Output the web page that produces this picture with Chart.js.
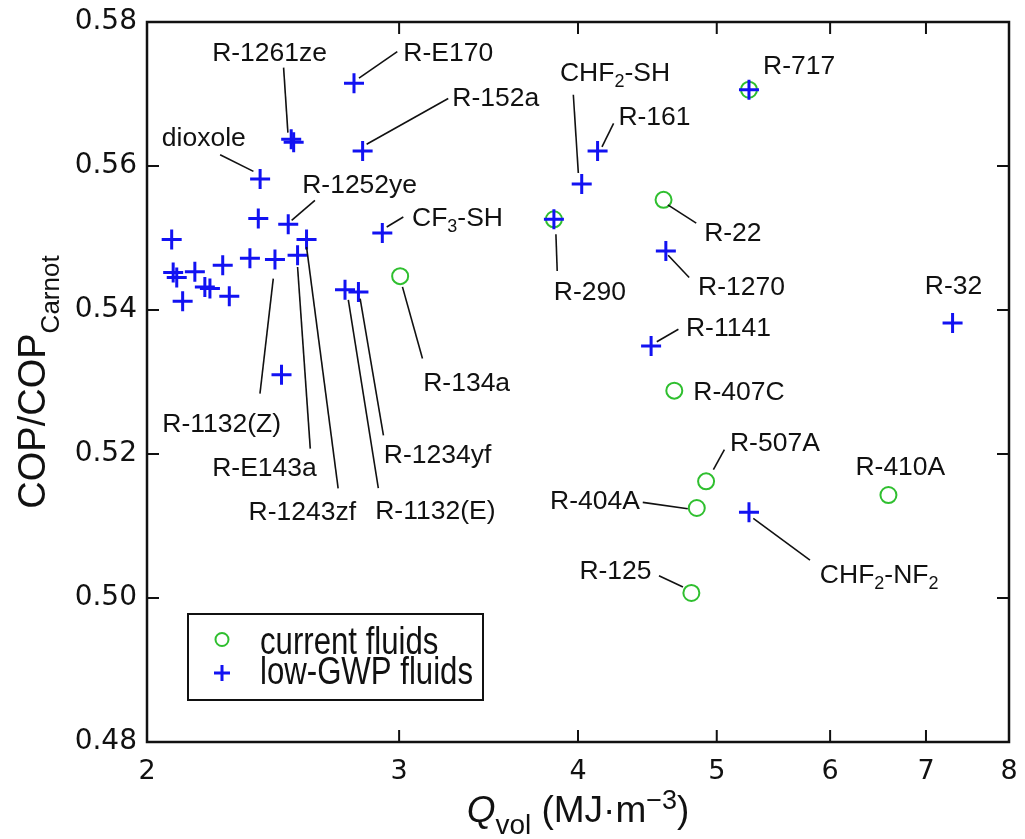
<!DOCTYPE html>
<html><head><meta charset="utf-8">
<script src="https://cdn.jsdelivr.net/npm/chart.js@4.4.0/dist/chart.umd.min.js"></script>
<style>html,body{margin:0;padding:0;background:#fff;} #wrap{width:1025px;height:839px;}</style>
</head><body><div id="wrap"><canvas id="c" width="1025" height="839"></canvas></div>
<script>
// ---- data ----
const xTicks = [2, 3, 4, 5, 6, 7, 8];
const yTicks = [0.48, 0.50, 0.52, 0.54, 0.56, 0.58];

const currentNames = ['R-134a', 'R-290', 'R-717', 'R-22', 'R-407C', 'R-507A', 'R-404A', 'R-410A', 'R-125'];
const currentQ     = [3.005, 3.848, 5.266, 4.590, 4.670, 4.915, 4.842, 6.590, 4.800];
const currentCOP   = [0.5447, 0.5526, 0.5706, 0.5553, 0.5288, 0.5162, 0.5125, 0.5143, 0.5007];

const lowNames = ['R-E170', 'R-1261ze', 'R-1261ze', 'R-152a', 'dioxole', '', 'R-1252ye', 'R-1243zf',
  'CF_3-SH', 'R-290', 'R-717', 'R-161', 'CHF_2-SH', 'R-1270', 'R-1141', 'R-32', 'CHF_2-NF_2',
  'R-1132(Z)', 'R-E143a', 'R-1132(E)', 'R-1234yf', '', '', '', '', '', '', '', '', '', '', ''];
const lowQ = [2.790, 2.522, 2.532, 2.829, 2.399, 2.392, 2.510, 2.585,
  2.920, 3.848, 5.266, 4.128, 4.024, 4.607, 4.499, 7.306, 5.266,
  2.457, 2.548, 2.750, 2.810, 2.081, 2.086, 2.098, 2.160, 2.259, 2.360, 2.195, 2.213, 2.118, 2.283, 2.483];
const lowCOP = [0.5715, 0.5637, 0.5633, 0.5621, 0.5582, 0.5527, 0.5519, 0.5498,
  0.5507, 0.5526, 0.5706, 0.5621, 0.5575, 0.5482, 0.5350, 0.5382, 0.5119,
  0.5470, 0.5476, 0.5428, 0.5425, 0.5498, 0.5452, 0.5445, 0.5453, 0.5462, 0.5472, 0.5432, 0.5430, 0.5412, 0.5419, 0.5310];

// ---- label layout (pixel offsets from the anchored point) ----
const labelLayout = [
  {set:'cur', name:'R-134a',  t:[66.5,105.7], l:[2.3,10.7,22.3,82.3]},
  {set:'cur', name:'R-290',   t:[36,71],      l:[2,15,3.3,51.7]},
  {set:'cur', name:'R-717',   t:[50.2,-25],   l:null},
  {set:'cur', name:'R-22',    t:[69.3,31.7],  l:[4.3,5,32.7,23.3]},
  {set:'cur', name:'R-407C',  t:[64.7,0],     l:null},
  {set:'cur', name:'R-507A',  t:[68.8,-40],   l:[7.3,-11.7,18.3,-31.7]},
  {set:'cur', name:'R-404A',  t:[-101.8,-8.3],l:[-9,0.7,-54,-5.6]},
  {set:'cur', name:'R-410A',  t:[11.9,-30],   l:null},
  {set:'cur', name:'R-125',   t:[-75.9,-23.3],l:[-8.4,-6,-32.4,-17.3]},
  {set:'low', name:'R-E170',  t:[94.2,-31.6], l:[5,-5,43.3,-31.6]},
  {set:'low', name:'R-1261ze',t:[-21.6,-88.3],l:[-3.3,-6.7,-7.6,-71.7]},
  {set:'low', name:'R-152a',  t:[133.1,-54],  l:[4,-6.7,85.6,-52.4]},
  {set:'low', name:'dioxole', t:[-56.3,-42.6],l:[-6.7,-7.6,-40,-24.3]},
  {set:'low', name:'R-1252ye',t:[71.4,-40.7], l:[3.4,-4,26.7,-24]},
  {set:'low', name:'CF_3-SH', t:[75.2,-16],   l:[4.4,-6,21,-16]},
  {set:'low', name:'R-161',   t:[56.9,-35.7], l:[4.4,-4,16,-27.4]},
  {set:'low', name:'CHF_2-SH',t:[33.3,-112.6],l:[-3.4,-11,-8.4,-89.3]},
  {set:'low', name:'R-1270',  t:[75.7,34.3],  l:[2.3,4.3,23.3,26.6]},
  {set:'low', name:'R-1141',  t:[77.3,-19.3], l:[5.7,-4.3,27.3,-16.7]},
  {set:'low', name:'R-32',    t:[1,-38.3],    l:null},
  {set:'low', name:'CHF_2-NF_2',t:[130.2,61], l:[4.3,6,61,47.7]},
  {set:'low', name:'R-1132(Z)',t:[-53.3,162.4],l:[-1.7,19,-15,134]},
  {set:'low', name:'R-E143a', t:[-33.1,211.7],l:[0,11.7,12.7,193.3]},
  {set:'low', name:'R-1243zf',t:[-4.2,270.7], l:[0,7.4,31.6,249]},
  {set:'low', name:'R-1132(E)',t:[90.3,220],  l:[3.3,10,33.3,198.3]},
  {set:'low', name:'R-1234yf',t:[79.2,161.6], l:[1.7,6.6,25,143.3]}
];

const BLUE = '#1212f2', GREEN = '#2fbf2f', INK = '#111';
const SANS = '"Liberation Sans", Arial, Helvetica, sans-serif';

function parseRich(s){
  const segs=[]; let buf='';
  for(let i=0;i<s.length;i++){
    if(s[i]==='_' && i+1<s.length){ if(buf){segs.push({t:buf,sub:false});buf='';} segs.push({t:s[i+1],sub:true}); i++; }
    else buf+=s[i];
  }
  if(buf) segs.push({t:buf,sub:false});
  return segs;
}
function drawSegs(ctx, segs, cx, baseline){
  let w=0; segs.forEach(sg=>{ctx.font=sg.font; sg.w=ctx.measureText(sg.t).width; w+=sg.w;});
  let x=cx-w/2;
  segs.forEach(sg=>{ctx.font=sg.font; ctx.fillText(sg.t,x,baseline+(sg.dy||0)); x+=sg.w;});
}

const annot = {
  id:'annot',
  afterDraw(chart){
    const {ctx, chartArea:a, scales:{x,y}} = chart;
    ctx.save();
    // leader lines and labels
    ctx.strokeStyle=INK; ctx.fillStyle=INK; ctx.lineWidth=1.6; ctx.textBaseline='alphabetic'; ctx.textAlign='left';
    labelLayout.forEach(L=>{
      const names = L.set==='cur'?currentNames:lowNames;
      const qs = L.set==='cur'?currentQ:lowQ;
      const cs = L.set==='cur'?currentCOP:lowCOP;
      const i = names.indexOf(L.name); if(i<0) return;
      const px=x.getPixelForValue(qs[i]), py=y.getPixelForValue(cs[i]);
      if(L.l){ ctx.beginPath(); ctx.moveTo(px+L.l[0],py+L.l[1]); ctx.lineTo(px+L.l[2],py+L.l[3]); ctx.stroke(); }
      const segs=parseRich(L.name).map(sg=>sg.sub?{t:sg.t,font:'18px '+SANS,dy:6}:{t:sg.t,font:'26.5px '+SANS});
      drawSegs(ctx, segs, px+L.t[0], py+L.t[1]+9.5);
    });
    // frame
    ctx.strokeStyle=INK; ctx.lineWidth=2.5;
    ctx.strokeRect(a.left, a.top, a.right-a.left, a.bottom-a.top);
    // inward ticks
    ctx.lineWidth=2; ctx.beginPath();
    xTicks.forEach(v=>{const p=x.getPixelForValue(v); ctx.moveTo(p,a.bottom); ctx.lineTo(p,a.bottom-12); ctx.moveTo(p,a.top); ctx.lineTo(p,a.top+12);});
    yTicks.forEach(v=>{const p=y.getPixelForValue(v); ctx.moveTo(a.left,p); ctx.lineTo(a.left+12,p); ctx.moveTo(a.right,p); ctx.lineTo(a.right-12,p);});
    ctx.stroke();
    // x title
    const cx=(a.left+a.right)/2;
    drawSegs(ctx,[
      {t:'Q',font:'italic 37px '+SANS},
      {t:'vol',font:'28px '+SANS,dy:12},
      {t:' (MJ\u00B7m',font:'37px '+SANS},
      {t:'\u22123',font:'27px '+SANS,dy:-13},
      {t:')',font:'37px '+SANS}
    ], cx, a.bottom+80);
    // y title
    ctx.save();
    ctx.translate(45,(a.top+a.bottom)/2);
    ctx.rotate(-Math.PI/2);
    drawSegs(ctx,[
      {t:'COP/COP',font:'38px '+SANS},
      {t:'Carnot',font:'26px '+SANS,dy:14}
    ],0,0);
    ctx.restore();
    // legend
    const lx=a.left+41, ly=a.bottom-128, lw=295, lh=86;
    ctx.fillStyle='#fff'; ctx.fillRect(lx,ly,lw,lh);
    ctx.strokeStyle=INK; ctx.lineWidth=2; ctx.strokeRect(lx,ly,lw,lh);
    ctx.strokeStyle=GREEN; ctx.lineWidth=2; ctx.beginPath(); ctx.arc(lx+34,ly+25.5,6.5,0,Math.PI*2); ctx.stroke();
    ctx.strokeStyle=BLUE; ctx.lineWidth=3; ctx.beginPath();
    ctx.moveTo(lx+34-8,ly+59); ctx.lineTo(lx+34+8,ly+59); ctx.moveTo(lx+34,ly+51); ctx.lineTo(lx+34,ly+67); ctx.stroke();
    ctx.fillStyle=INK; ctx.font='38px '+SANS; ctx.textBaseline='alphabetic';
    [['current fluids',ly+39.5],['low-GWP fluids',ly+69.5]].forEach(([t,b])=>{
      ctx.save(); ctx.translate(lx+72,b); ctx.scale(0.82,1); ctx.fillText(t,0,0); ctx.restore();
    });
    ctx.restore();
  }
};

const lowData = lowQ.map((q,i)=>({x:q,y:lowCOP[i]}));
const curData = currentQ.map((q,i)=>({x:q,y:currentCOP[i]}));

new Chart(document.getElementById('c'), {
  type:'scatter',
  data:{datasets:[
    {label:'low-GWP fluids', data:lowData, pointStyle:'cross', pointRadius:10, pointBorderWidth:3,
     borderColor:BLUE, backgroundColor:BLUE, order:0},
    {label:'current fluids', data:curData, pointStyle:'circle', pointRadius:8, pointBorderWidth:2,
     borderColor:GREEN, backgroundColor:'rgba(0,0,0,0)', order:1}
  ]},
  options:{
    responsive:false, animation:false, events:[],
    layout:{padding:{top:22,right:16,left:0,bottom:0}},
    plugins:{legend:{display:false}, tooltip:{enabled:false}},
    scales:{
      x:{type:'logarithmic', min:2, max:8,
        afterBuildTicks:(s)=>{s.ticks=xTicks.map(v=>({value:v}));},
        afterFit:(s)=>{s.height=97; s.paddingLeft=0; s.paddingRight=0;},
        grid:{display:false, drawTicks:false}, border:{display:false},
        ticks:{autoSkip:false, maxRotation:0, padding:14, color:INK,
          font:{family:'"DejaVu Sans", sans-serif', size:27},
          callback:(v)=>String(v)}},
      y:{type:'linear', min:0.48, max:0.58,
        afterBuildTicks:(s)=>{s.ticks=yTicks.map(v=>({value:v}));},
        afterFit:(s)=>{s.width=147; s.paddingTop=0; s.paddingBottom=0;},
        grid:{display:false, drawTicks:false}, border:{display:false},
        ticks:{padding:10, color:INK,
          font:{family:'"DejaVu Sans", sans-serif', size:28},
          callback:(v)=>Number(v).toFixed(2)}}
    }
  },
  plugins:[annot]
});
</script>
</body></html>
